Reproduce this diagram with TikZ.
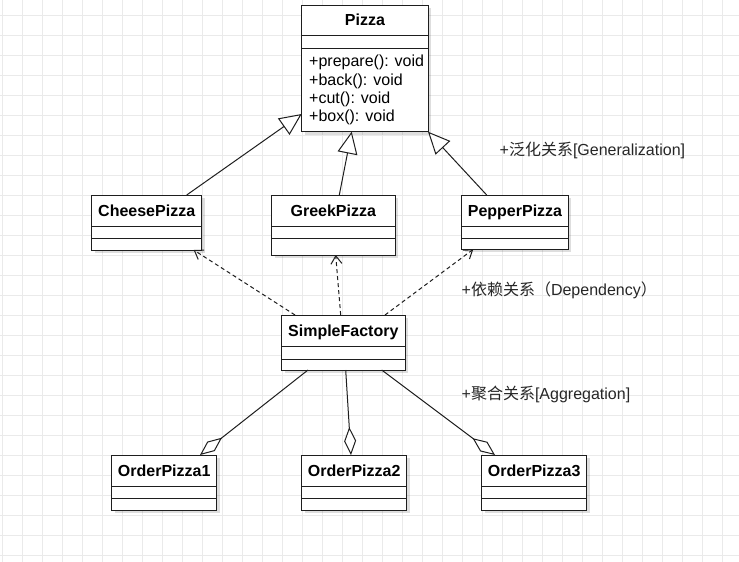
\documentclass[tikz,border=0pt]{standalone}
\usepackage{fontspec}
\setmainfont{Liberation Sans}
\newfontfamily\cjk{Noto Sans CJK SC}
\usetikzlibrary{arrows.meta,shadows}
\definecolor{gridc}{RGB}{234,234,234}
\definecolor{linec}{RGB}{30,30,30}
\tikzset{
  umlbox/.style={draw=linec, line width=1pt, fill=white, anchor=north west, inner sep=0pt, outer sep=0pt,
    drop shadow={shadow xshift=3pt, shadow yshift=-3pt, opacity=0.13, fill=black}},
  cname/.style={anchor=base, inner sep=0pt, font=\fontsize{16}{18}\selectfont\bfseries},
  meth/.style={anchor=base west, inner sep=0pt, font=\fontsize{16}{18}\selectfont},
  lbl/.style={anchor=base west, inner sep=0pt, font=\fontsize{16}{18}\selectfont, text=black!85},
  sep/.style={draw=linec, line width=1pt},
  gen/.style={draw=linec, line width=1pt, -{Triangle[open, length=22pt, width=20pt, fill=white]}},
  dep/.style={draw=linec, line width=1pt, dash pattern=on 4pt off 3pt, -{Straight Barb[length=8pt, width=11pt]}},
  agg/.style={draw=linec, line width=1pt, -{Diamond[open, length=28pt, width=12pt, fill=white]}}
}
\begin{document}
\begin{tikzpicture}[x=1pt,y=-1pt]
\useasboundingbox (0,0) rectangle (739,562);
\fill[white] (0,0) rectangle (739,562);
% grid
\foreach \gx in {2,22,...,738} \draw[gridc, line width=0.8pt] (\gx,0) -- (\gx,562);
\foreach \gy in {15,35,...,555} \draw[gridc, line width=0.8pt] (0,\gy) -- (739,\gy);

% Pizza
\node[umlbox, minimum width=126.3pt, minimum height=126.7pt] (pizza) at (301.7,5) {};
\node[cname] (pizzat) at (365,25.8) {Pizza};
\draw[sep] ([yshift=-30pt]pizza.north west) -- ([yshift=-30pt]pizza.north east);
\draw[sep] ([yshift=-43.3pt]pizza.north west) -- ([yshift=-43.3pt]pizza.north east);
\node[meth] (m1) at (309,66.7) {+prepare(): void};
\node[meth] (m2) at (309,85) {+back(): void};
\node[meth] (m3) at (309,103.3) {+cut(): void};
\node[meth] (m4) at (309,121.7) {+box(): void};

% CheesePizza
\node[umlbox, minimum width=110pt, minimum height=55pt] (cheese) at (91.7,195) {};
\node[cname] (cheeset) at (146.7,216.5) {CheesePizza};
\draw[sep] ([yshift=-31pt]cheese.north west) -- ([yshift=-31pt]cheese.north east);
\draw[sep] ([yshift=-43.3pt]cheese.north west) -- ([yshift=-43.3pt]cheese.north east);

% GreekPizza
\node[umlbox, minimum width=123.3pt, minimum height=60pt] (greek) at (271.7,195) {};
\node[cname] (greekt) at (333.3,216.5) {GreekPizza};
\draw[sep] ([yshift=-31pt]greek.north west) -- ([yshift=-31pt]greek.north east);
\draw[sep] ([yshift=-43.3pt]greek.north west) -- ([yshift=-43.3pt]greek.north east);

% PepperPizza
\node[umlbox, minimum width=106.6pt, minimum height=54.3pt] (pepper) at (461.7,195) {};
\node[cname] (peppert) at (515,216.5) {PepperPizza};
\draw[sep] ([yshift=-31.5pt]pepper.north west) -- ([yshift=-31.5pt]pepper.north east);
\draw[sep] ([yshift=-43.3pt]pepper.north west) -- ([yshift=-43.3pt]pepper.north east);

% SimpleFactory
\node[umlbox, minimum width=123.3pt, minimum height=55pt] (sf) at (281.7,315) {};
\node[cname] (sft) at (343.3,336.5) {SimpleFactory};
\draw[sep] ([yshift=-31.7pt]sf.north west) -- ([yshift=-31.7pt]sf.north east);
\draw[sep] ([yshift=-44pt]sf.north west) -- ([yshift=-44pt]sf.north east);

% OrderPizza1..3
\node[umlbox, minimum width=105pt, minimum height=55pt] (o1) at (111.7,455) {};
\node[cname] (o1t) at (164.2,476.3) {OrderPizza1};
\draw[sep] ([yshift=-31pt]o1.north west) -- ([yshift=-31pt]o1.north east);
\draw[sep] ([yshift=-43.3pt]o1.north west) -- ([yshift=-43.3pt]o1.north east);

\node[umlbox, minimum width=105pt, minimum height=55pt] (o2) at (301.7,455) {};
\node[cname] (o2t) at (354.2,476.3) {OrderPizza2};
\draw[sep] ([yshift=-31pt]o2.north west) -- ([yshift=-31pt]o2.north east);
\draw[sep] ([yshift=-43.3pt]o2.north west) -- ([yshift=-43.3pt]o2.north east);

\node[umlbox, minimum width=105pt, minimum height=55pt] (o3) at (481.7,455) {};
\node[cname] (o3t) at (534.2,476.3) {OrderPizza3};
\draw[sep] ([yshift=-31pt]o3.north west) -- ([yshift=-31pt]o3.north east);
\draw[sep] ([yshift=-43.3pt]o3.north west) -- ([yshift=-43.3pt]o3.north east);

% generalization
\draw[gen] ([xshift=95pt]cheese.north west) -- ([yshift=-109pt]pizza.north west);
\draw[gen] ([xshift=67.6pt]greek.north west) -- ([xshift=50pt]pizza.south west);
\draw[gen] ([xshift=25pt]pepper.north west) -- (pizza.south east);

% dependency
\draw[dep] ([xshift=13.3pt]sf.north west) -- ([xshift=-8pt]cheese.south east);
\draw[dep] ([xshift=59pt]sf.north west) -- ([xshift=64pt]greek.south west);
\draw[dep] ([xshift=103.3pt]sf.north west) -- ([xshift=11.6pt]pepper.south west);

% aggregation
\draw[agg] ([xshift=26.3pt]sf.south west) -- ([xshift=88.3pt]o1.north west);
\draw[agg] ([xshift=64pt]sf.south west) -- ([xshift=49.3pt]o2.north west);
\draw[agg] ([xshift=100pt]sf.south west) -- ([xshift=13.3pt]o3.north west);

% labels
\node[lbl] (lgen) at (499.5,155) {+{\cjk 泛化关系}[Generalization]};
\node[lbl] (ldep) at (461.5,295) {+{\cjk 依赖关系（}Dependency{\cjk ）}};
\node[lbl] (lagg) at (461.5,399.5) {+{\cjk 聚合关系}[Aggregation]};
\end{tikzpicture}
\end{document}
